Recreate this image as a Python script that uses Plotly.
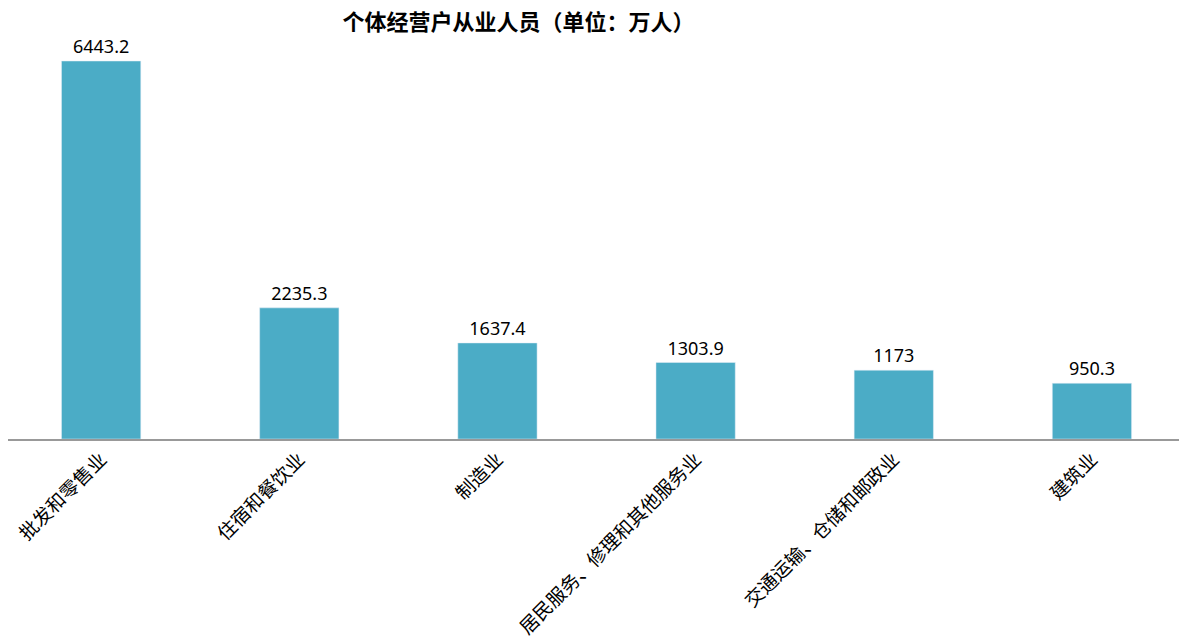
import plotly.graph_objs as go

industries = ["批发和零售业", "住宿和餐饮业", "制造业", "居民服务、修理和其他服务业", "交通运输、仓储和邮政业", "建筑业"]
workers = [6443.2, 2235.3, 1637.4, 1303.9, 1173, 950.3]
labels = ["6443.2", "2235.3", "1637.4", "1303.9", "1173", "950.3"]

fig = go.Figure()
fig.add_trace(go.Bar(x=list(range(len(industries))), y=workers, text=labels, textposition="outside",
                     marker_color="#4BACC6", cliponaxis=False,
                     textfont=dict(family="Noto Sans", size=18, color="#000000")))
fig.update_layout(
    width=1187, height=642, plot_bgcolor="white", paper_bgcolor="white",
    margin=dict(l=0, r=2, t=0, b=211), bargap=0.6, showlegend=False,
    title=dict(text="<b>个体经营户从业人员（单位：万人）</b>", x=0.43, xanchor="center",
               y=0.99, yanchor="top",
               font=dict(family="Noto Sans CJK SC", size=22, color="#000000")),
)
fig.update_xaxes(tickmode="array", tickvals=list(range(len(industries))), ticktext=industries,
                 range=[-0.47, 5.51], tickangle=-45, showline=True, linecolor="#999999",
                 linewidth=1.5, ticks="",
                 tickfont=dict(family="Noto Sans CJK SC", size=19, color="#000000"))
fig.update_yaxes(visible=False, range=[0, 7347])
fig.write_html("out.html")
